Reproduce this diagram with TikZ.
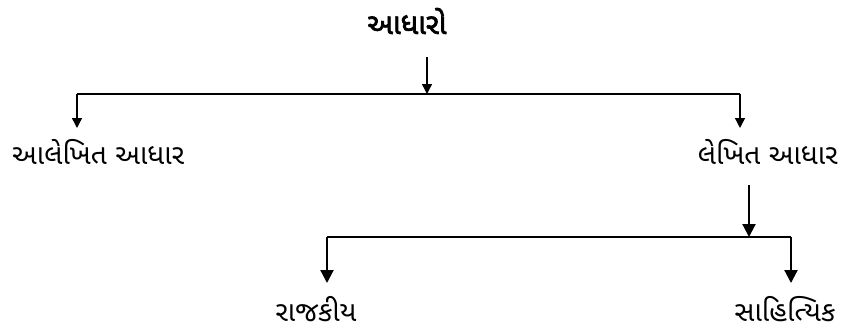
\documentclass[tikz,border=0pt]{standalone}
\usepackage{fontspec}
\newfontfamily\gujfont[Script=Gujarati]{Noto Sans Gujarati UI}
\newfontfamily\gujboldfont[Script=Gujarati,FakeBold=2.5]{Noto Sans Gujarati UI}
\usetikzlibrary{arrows.meta}

\begin{document}
\begin{tikzpicture}[x=1pt, y=-1pt,
    lbl/.style={font=\gujfont\fontsize{28}{32}\selectfont, inner sep=0pt},
    toplbl/.style={font=\gujboldfont\fontsize{29}{33}\selectfont, inner sep=0pt},
    thinline/.style={line width=1.4pt, -{Triangle[width=10pt,length=10pt]}},
    thickline/.style={line width=2.2pt, -{Triangle[width=13pt,length=13pt]}}]
  \useasboundingbox (0,0) rectangle (851,333);

  % Sources
  \node[toplbl, anchor=base] (root) at (407,34) {આધારો};
  \coordinate (rootstem) at (427,57);
  \coordinate (topbarM) at (427,94);
  \coordinate (topbarL) at (77,94);
  \coordinate (topbarR) at (740,94);
  \draw[thinline] (rootstem) -- (topbarM);
  \draw[line width=1.4pt] (topbarL) -- (topbarR);

  % Unwritten / written
  \node[lbl, anchor=base west] (alekhit) at (12,164) {આલેખિત આધાર};
  \node[lbl, anchor=base east] (lekhit) at (838,164) {લેખિત આધાર};
  \coordinate (alekhittip) at (77,128);
  \coordinate (lekhittip) at (740,128);
  \draw[thinline] (topbarL) -- (alekhittip);
  \draw[thinline] (topbarR) -- (lekhittip);

  % Written sources split
  \coordinate (lekhitstem) at (749,185);
  \coordinate (lowbarM) at (749,237);
  \coordinate (lowbarL) at (327,237);
  \coordinate (lowbarR) at (791,237);
  \draw[thickline] (lekhitstem) -- (lowbarM);
  \draw[line width=2.2pt] (lowbarL) -- (lowbarR);

  \node[lbl, anchor=base] (rajkiya) at (316,321) {રાજકીય};
  \node[lbl, anchor=base] (sahityik) at (785,321) {સાહિત્યિક};
  \coordinate (rajkiyatip) at (327,283);
  \coordinate (sahityiktip) at (791,283);
  \draw[thickline] (lowbarL) -- (rajkiyatip);
  \draw[thickline] (lowbarR) -- (sahityiktip);
\end{tikzpicture}
\end{document}
